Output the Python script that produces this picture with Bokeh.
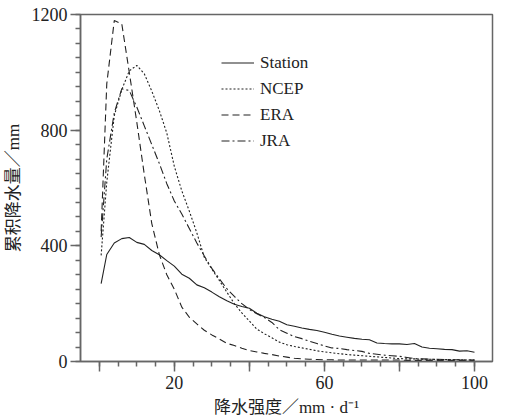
from bokeh.plotting import figure
from bokeh.models import FixedTicker, Legend, LegendItem, Range1d
from bokeh.embed import file_html
from bokeh.resources import INLINE

# ---- data ----
x_vals = [0.5] + list(range(2, 101, 2))

station = [269, 370, 410, 425, 429, 412, 405, 384, 369, 349,
           330, 302, 288, 265, 255, 240, 224, 210, 198, 190,
           184, 167, 155, 146, 139, 127, 122, 116, 111, 107,
           101, 94, 88, 84, 80, 77, 75, 64, 62, 61,
           61, 59, 62, 50, 46, 44, 42, 41, 36, 37, 32]

ncep = [367, 620, 850, 940, 1005, 1024, 995, 935, 868, 790,
        675, 590, 520, 445, 360, 320, 280, 240, 200, 168,
        140, 112, 96, 82, 67, 58, 52, 47, 42, 37,
        33, 30, 27, 24, 22, 20, 18, 16, 14, 12,
        10, 9, 9, 8, 8, 7, 7, 6, 6, 5, 5]

era = [450, 960, 1179, 1168, 1000, 828, 647, 477, 370, 300,
       250, 188, 153, 130, 108, 92, 78, 63, 55, 46,
       38, 33, 28, 24, 19, 15, 11, 9, 8, 7,
       6, 6, 5, 5, 5, 5, 5, 5, 5, 5,
       5, 4, 4, 4, 4, 4, 4, 4, 4, 4, 4]

jra = [430, 700, 860, 943, 937, 880, 815, 750, 685, 615,
       555, 510, 460, 410, 365, 322, 286, 252, 225, 200,
       180, 165, 152, 135, 110, 98, 86, 79, 70, 62,
       54, 47, 45, 41, 38, 35, 28, 25, 22, 20,
       18, 14, 10, 9, 8, 8, 7, 6, 6, 5, 5]

series_names = ["Station", "NCEP", "ERA", "JRA"]
series_dash = ["solid", "2 2", "7 4", "8 3 2 3"]

x_major = [0, 20, 40, 60, 80, 100]
x_labels = {0: "", 20: "20", 40: "", 60: "60", 80: "", 100: "100"}
y_major = [0, 400, 800, 1200]

serif = "Liberation Serif"
cjk = "Liberation Serif, Noto Sans CJK SC"

p = figure(output_backend="svg", toolbar_location=None,
           frame_width=412, frame_height=347,
           x_range=Range1d(-5, 104.8), y_range=Range1d(0, 1200),
           min_border_left=73, min_border_top=14, min_border_right=12, min_border_bottom=10)

lines = []
for name, ys, dash in zip(series_names, [station, ncep, era, jra], series_dash):
    r = p.line(x_vals, ys, line_color="#222222", line_width=1.1, line_dash=dash)
    lines.append(LegendItem(label=name, renderers=[r]))

legend = Legend(items=lines, location=(141, 209), padding=0, margin=0,
                spacing=3, label_height=23, glyph_height=23, glyph_width=33,
                label_standoff=6, border_line_color=None, background_fill_alpha=0,
                label_text_font=serif, label_text_font_size="17px", label_text_color="#222222")
p.add_layout(legend)

p.xgrid.visible = False
p.ygrid.visible = False
p.outline_line_color = "#666666"
p.outline_line_width = 1.5

p.xaxis.ticker = FixedTicker(ticks=x_major, minor_ticks=list(range(0, 101, 5)))
p.xaxis.major_label_overrides = x_labels
p.yaxis.ticker = FixedTicker(ticks=y_major, minor_ticks=list(range(0, 1201, 50)))

for ax in (p.xaxis[0], p.yaxis[0]):
    ax.axis_line_color = "#666666"
    ax.axis_line_width = 1.5
    ax.major_tick_line_color = "#666666"
    ax.minor_tick_line_color = "#666666"
    ax.major_tick_line_width = 1.5
    ax.minor_tick_line_width = 1.5
    ax.major_tick_in = 0
    ax.major_tick_out = 10
    ax.minor_tick_in = 0
    ax.minor_tick_out = 5
    ax.major_label_text_font = serif
    ax.major_label_text_font_size = "18px"
    ax.major_label_text_color = "#222222"
    ax.axis_label_text_font = cjk
    ax.axis_label_text_font_size = "17px"
    ax.axis_label_text_font_style = "normal"
    ax.axis_label_text_color = "#222222"

p.xaxis.axis_label = "降水强度／mm · d⁻¹"
p.yaxis.axis_label = "累积降水量／mm"
p.xaxis.major_label_standoff = 4
p.yaxis.major_label_standoff = 3
p.xaxis.axis_label_standoff = 6
p.yaxis.axis_label_standoff = 6
p.yaxis.major_label_orientation = "horizontal"

open("out.html", "w").write(file_html(p, INLINE))
